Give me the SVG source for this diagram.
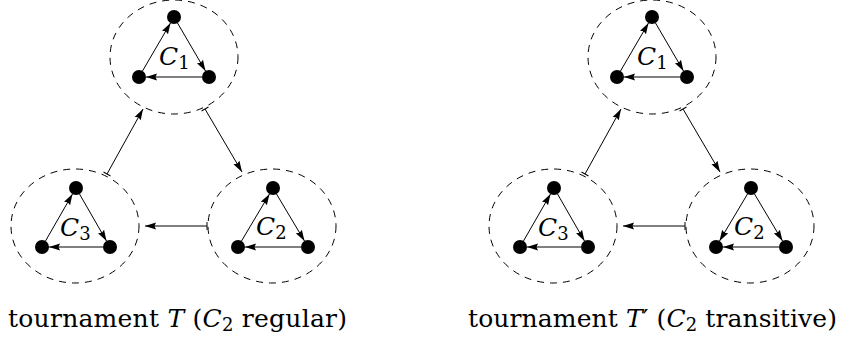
<svg xmlns="http://www.w3.org/2000/svg" width="849" height="338" viewBox="0 0 849 338">
  <defs>
    <marker id="arrow" markerUnits="userSpaceOnUse" markerWidth="11" markerHeight="8" refX="11" refY="4" orient="auto">
      <path d="M0,0.5 L11,4 L0,7.5 L1.5,4 z" fill="#000"/>
    </marker>
    <marker id="bar" markerUnits="userSpaceOnUse" markerWidth="2" markerHeight="10" refX="1" refY="5" orient="auto">
      <path d="M1,1 V9" stroke="#000" stroke-width="1"/>
    </marker>
  </defs>
  <style>
    .cluster { fill: none; stroke: #000; stroke-width: 1; stroke-dasharray: 7 6; }
    .v { fill: #000; }
    .e { stroke: #000; stroke-width: 1; fill: none; marker-end: url(#arrow); }
    .link { stroke: #000; stroke-width: 1; fill: none; marker-start: url(#bar); marker-end: url(#arrow); }
    .lbl { font-family: "DejaVu Serif", serif; font-style: italic; font-size: 25px; fill: #000; }
    .sub { font-family: "DejaVu Serif", serif; font-style: normal; font-size: 18px; fill: #000; }
    .cap { font-family: "DejaVu Serif", serif; font-size: 25px; fill: #000; }
    .it { font-style: italic; }
  </style>

  <!-- ===== Tournament T ===== -->
  <g id="T-C1">
    <ellipse class="cluster" cx="174" cy="57" rx="64" ry="57"/>
    <line class="e" x1="142.5" y1="71" x2="170.5" y2="23"/>
    <line class="e" x1="177.5" y1="23" x2="205.5" y2="71"/>
    <line class="e" x1="202" y1="77" x2="146" y2="77"/>
    <circle class="v" cx="174" cy="17" r="7"/>
    <circle class="v" cx="139" cy="77" r="7"/>
    <circle class="v" cx="209" cy="77" r="7"/>
    <text class="lbl" x="159" y="65">C<tspan class="sub" dy="4">1</tspan></text>
  </g>
  <g id="T-C3">
    <ellipse class="cluster" cx="75" cy="226" rx="64" ry="57"/>
    <line class="e" x1="45.5" y1="241" x2="72.5" y2="194"/>
    <line class="e" x1="79.5" y1="194" x2="106.5" y2="241"/>
    <line class="e" x1="103" y1="247" x2="49" y2="247"/>
    <circle class="v" cx="76" cy="188" r="7"/>
    <circle class="v" cx="42" cy="247" r="7"/>
    <circle class="v" cx="110" cy="247" r="7"/>
    <text class="lbl" x="60" y="236">C<tspan class="sub" dy="4">3</tspan></text>
  </g>
  <g id="T-C2">
    <ellipse class="cluster" cx="272" cy="226" rx="64" ry="57"/>
    <line class="e" x1="241.5" y1="241" x2="269.5" y2="194"/>
    <line class="e" x1="276.5" y1="194" x2="304.5" y2="241"/>
    <line class="e" x1="301" y1="247" x2="245" y2="247"/>
    <circle class="v" cx="273" cy="188" r="7"/>
    <circle class="v" cx="238" cy="247" r="7"/>
    <circle class="v" cx="308" cy="247" r="7"/>
    <text class="lbl" x="256" y="235">C<tspan class="sub" dy="4">2</tspan></text>
  </g>
  <g id="T-links">
    <line class="link" x1="107" y1="174" x2="143" y2="109"/>
    <line class="link" x1="205" y1="109" x2="242" y2="172"/>
    <line class="link" x1="207" y1="226" x2="145" y2="226"/>
  </g>
  <g id="T-caption">
    <text class="cap" x="8" y="327" textLength="339" lengthAdjust="spacing">tournament <tspan class="it">T</tspan> (<tspan class="it">C</tspan><tspan class="sub" dy="4">2</tspan><tspan dy="-4"> regular)</tspan></text>
  </g>

  <!-- ===== Tournament T' ===== -->
  <g id="T2-C1">
    <ellipse class="cluster" cx="652" cy="57" rx="64" ry="57"/>
    <line class="e" x1="620.5" y1="71" x2="648.5" y2="23"/>
    <line class="e" x1="655.5" y1="23" x2="683.5" y2="71"/>
    <line class="e" x1="680" y1="77" x2="624" y2="77"/>
    <circle class="v" cx="652" cy="17" r="7"/>
    <circle class="v" cx="617" cy="77" r="7"/>
    <circle class="v" cx="687" cy="77" r="7"/>
    <text class="lbl" x="637" y="65">C<tspan class="sub" dy="4">1</tspan></text>
  </g>
  <g id="T2-C3">
    <ellipse class="cluster" cx="553" cy="226" rx="64" ry="57"/>
    <line class="e" x1="523.5" y1="241" x2="550.5" y2="194"/>
    <line class="e" x1="557.5" y1="194" x2="584.5" y2="241"/>
    <line class="e" x1="581" y1="247" x2="527" y2="247"/>
    <circle class="v" cx="554" cy="188" r="7"/>
    <circle class="v" cx="520" cy="247" r="7"/>
    <circle class="v" cx="588" cy="247" r="7"/>
    <text class="lbl" x="538" y="236">C<tspan class="sub" dy="4">3</tspan></text>
  </g>
  <g id="T2-C2">
    <ellipse class="cluster" cx="750" cy="226" rx="64" ry="57"/>
    <line class="e" x1="747.5" y1="194" x2="719.5" y2="241"/>
    <line class="e" x1="754.5" y1="194" x2="782.5" y2="241"/>
    <line class="e" x1="779" y1="247" x2="723" y2="247"/>
    <circle class="v" cx="751" cy="188" r="7"/>
    <circle class="v" cx="716" cy="247" r="7"/>
    <circle class="v" cx="786" cy="247" r="7"/>
    <text class="lbl" x="734" y="235">C<tspan class="sub" dy="4">2</tspan></text>
  </g>
  <g id="T2-links">
    <line class="link" x1="585" y1="174" x2="621" y2="109"/>
    <line class="link" x1="683" y1="109" x2="720" y2="172"/>
    <line class="link" x1="685" y1="226" x2="623" y2="226"/>
  </g>
  <g id="T2-caption">
    <text class="cap" x="468" y="327" textLength="369" lengthAdjust="spacing">tournament <tspan class="it">T</tspan>′ (<tspan class="it">C</tspan><tspan class="sub" dy="4">2</tspan><tspan dy="-4"> transitive)</tspan></text>
  </g>
</svg>
